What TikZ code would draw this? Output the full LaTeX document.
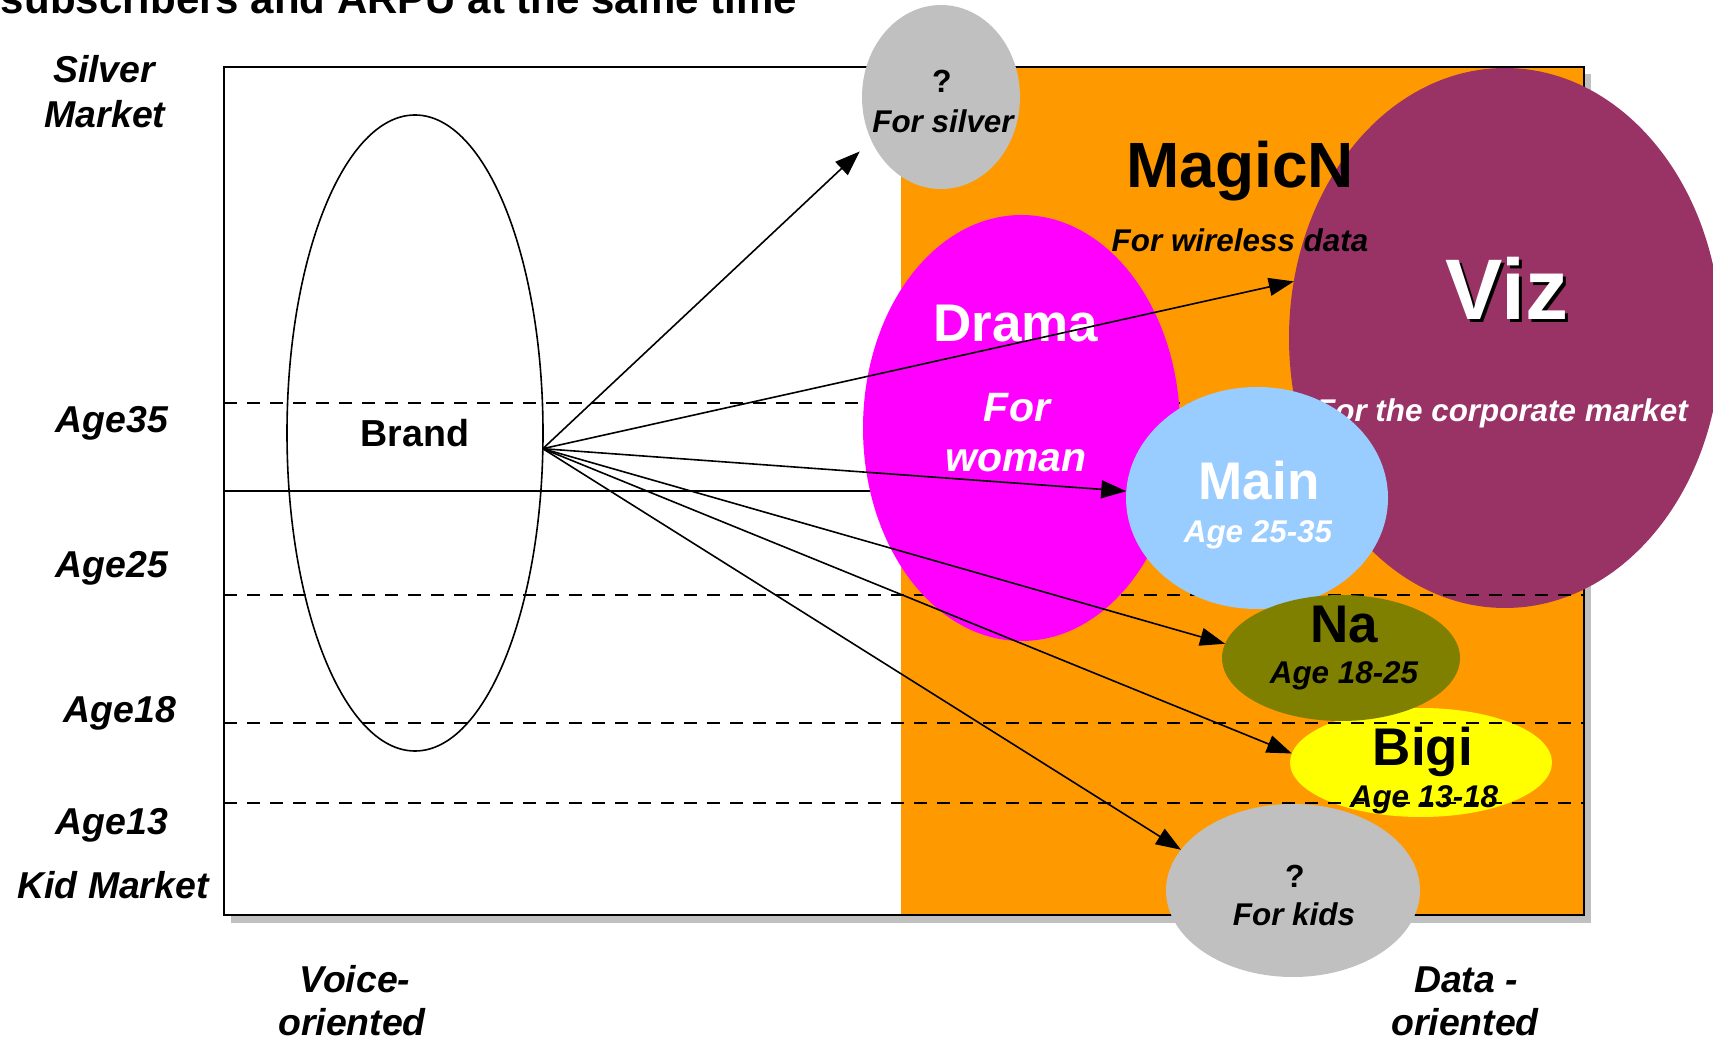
\documentclass[tikz,border=0pt]{standalone}
\usepackage{fontspec}
\setmainfont{Liberation Sans}
\usepackage{tikz}
\usetikzlibrary{arrows.meta,shapes.geometric}

\definecolor{magicorange}{HTML}{FF9900}
\definecolor{vizpurple}{HTML}{993366}
\definecolor{dramamagenta}{HTML}{FF00FF}
\definecolor{mainblue}{HTML}{99CCFF}
\definecolor{naolive}{HTML}{808000}
\definecolor{bigiyellow}{HTML}{FFFF00}
\definecolor{askgray}{HTML}{C0C0C0}

\begin{document}
\begin{tikzpicture}[x=0.5pt,y=-0.5pt,
    every node/.append style={inner sep=0pt, outer sep=0pt},
    blob/.style={ellipse, draw=none},
    band/.style={line width=1pt, dash pattern=on 6.5pt off 5pt},
    axislbl/.style={anchor=base, font=\bfseries\itshape\fontsize{18.7}{22}\selectfont},
    brandlbl/.style={anchor=base, font=\bfseries\fontsize{26.5}{30}\selectfont},
    sublbl/.style={anchor=base, font=\bfseries\itshape\fontsize{15.7}{19}\selectfont},
    link/.style={line width=0.8pt, -{Triangle[length=12.5pt,width=9pt]}}]
       \useasboundingbox (0,0) rectangle (1713,1042);
       \clip (0,0) rectangle (1713,1042);

       \node[anchor=base west, font=\bfseries\fontsize{21}{25}\selectfont] (title) at (1,14) {subscribers and ARPU at the same time};

       % frame
       \fill[askgray] (231,74) rectangle (1591,923);
       \fill[white] (224,67) rectangle (1584,915);
       \fill[magicorange] (901,67) rectangle (1584,915);
       \draw[line width=1pt] (224,67) rectangle (1584,915);

       \draw[band] (224,403) -- (1584,403);
       \draw[line width=1pt] (224,491) -- (901,491);

       \node[blob, fill=vizpurple, minimum width=216pt, minimum height=270pt] (viz) at (1505,338) {};
       \node[anchor=base, text=black, font=\bfseries\fontsize{43}{48}\selectfont] at (1510,323) {Viz};
       \node[anchor=base, text=white, font=\bfseries\fontsize{43}{48}\selectfont] (viztxt) at (1507,320) {Viz};
       \node[sublbl, text=white] (corp) at (1502,422) {For the corporate market};

       \node[blob, fill=bigiyellow, minimum width=131pt, minimum height=54.5pt] (bigi) at (1421,762.5) {};

       \draw[band] (224,595) -- (1584,595);
       \draw[band] (224,723) -- (1584,723);
       \draw[band] (224,803) -- (1584,803);

       \node[blob, fill=dramamagenta, minimum width=158.5pt, minimum height=213pt] (drama) at (1021.5,428) {};
       \node[brandlbl, text=white] (dramatxt) at (1016,342) {Drama};
       \node[anchor=base, text=white, font=\bfseries\itshape\fontsize{20.5}{24}\selectfont] (fortxt) at (1017,422) {For};
       \node[anchor=base, text=white, font=\bfseries\itshape\fontsize{20.5}{24}\selectfont] (womantxt) at (1016,472) {woman};

       \node[blob, fill=mainblue, minimum width=131pt, minimum height=111pt] (main) at (1257,498) {};
       \node[brandlbl, text=white] (maintxt) at (1259,500) {Main};
       \node[sublbl, text=white] (mainage) at (1258,543) {Age 25-35};

       \node[blob, fill=naolive, minimum width=119pt, minimum height=63pt] (na) at (1341,658) {};
       \node[brandlbl] (natxt) at (1344,642) {Na};
       \node[sublbl] (naage) at (1344,683) {Age 18-25};

       \node[brandlbl] (bigitxt) at (1423,765) {Bigi};
       \node[sublbl] (bigiage) at (1424,807) {Age 13-18};

       \node[blob, fill=askgray, minimum width=79pt, minimum height=92pt] (silver) at (941,97) {};
       \node[anchor=base, font=\bfseries\fontsize{16}{19}\selectfont] (silverq) at (942,93) {?};
       \node[sublbl] (silvertxt) at (943,133) {For silver};

       \node[blob, fill=askgray, minimum width=127pt, minimum height=86.5pt] (kids) at (1293,890.5) {};
       \node[anchor=base, font=\bfseries\fontsize{16}{19}\selectfont] (kidsq) at (1295,887) {?};
       \node[sublbl] (kidstxt) at (1294,925) {For kids};

       \node[anchor=base, font=\bfseries\fontsize{32}{36}\selectfont] (magicn) at (1240,188) {MagicN};
       \node[sublbl] (wireless) at (1240,252) {For wireless data};

       % axis labels
       \node[axislbl] (silverlbl) at (104,83) {Silver};
       \node[axislbl] (marketlbl) at (105,128) {Market};
       \node[axislbl] (age35) at (112,433) {Age35};
       \node[axislbl] (age25) at (112,578) {Age25};
       \node[axislbl] (age18) at (120,722) {Age18};
       \node[axislbl] (age13) at (112,834) {Age13};
       \node[axislbl] (kidlbl) at (113,898) {Kid Market};
       \node[axislbl] (voicelbl) at (355,992) {Voice-};
       \node[axislbl] (voiceor) at (352,1035) {oriented};
       \node[axislbl] (datalbl) at (1466,992) {Data -};
       \node[axislbl] (dataor) at (1465,1035) {oriented};

       % brand and its links
       \node[blob, draw, line width=0.8pt, minimum width=128pt, minimum height=318pt] (brand) at (415,433) {};
       \node[anchor=base, font=\bfseries\fontsize{18.8}{22}\selectfont] (brandtxt) at (415,447) {Brand};
       \coordinate (hub) at (brand.-7);

       \draw[link, shorten >=8pt] (hub) -- (silver.212);
       \draw[link] (hub) -- (viz.165);
       \draw[link] (hub) -- (main.177);
       \draw[link] (hub) -- (na.173);
       \draw[link] (hub) -- (bigi.176);
       \draw[link] (hub) -- (kids.160);
\end{tikzpicture}
\end{document}
